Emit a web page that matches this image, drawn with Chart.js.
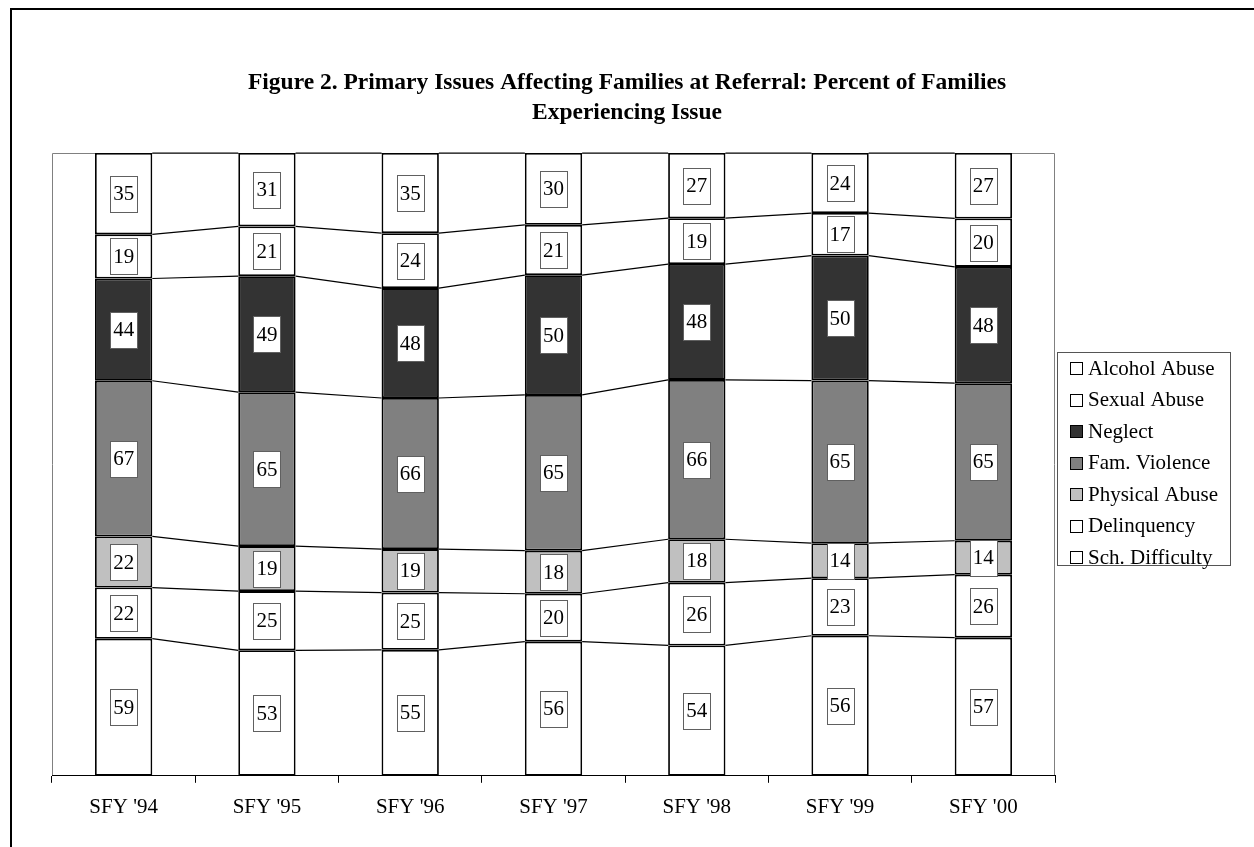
<!DOCTYPE html>
<html><head><meta charset="utf-8">
<script src="https://cdn.jsdelivr.net/npm/chart.js@4.4.1/dist/chart.umd.min.js"></script>
<style>html,body{margin:0;padding:0;background:#fff}#wrap{width:1254px;height:847px;position:relative}</style>
</head><body><div id="wrap"><canvas id="c" width="1254" height="847"></canvas></div>
<script>
const categories = ["SFY '94","SFY '95","SFY '96","SFY '97","SFY '98","SFY '99","SFY '00"];
const schDifficulty = [59,53,55,56,54,56,57];
const delinquency   = [22,25,25,20,26,23,26];
const physicalAbuse = [22,19,19,18,18,14,14];
const famViolence   = [67,65,66,65,66,65,65];
const neglect       = [44,49,48,50,48,50,48];
const sexualAbuse   = [19,21,24,21,19,17,20];
const alcoholAbuse  = [35,31,35,30,27,24,27];
const seriesNames = ["Sch. Difficulty","Delinquency","Physical Abuse","Fam. Violence","Neglect","Sexual Abuse","Alcohol Abuse"];
const seriesValues = [schDifficulty, delinquency, physicalAbuse, famViolence, neglect, sexualAbuse, alcoholAbuse];
const seriesColors = ['#ffffff','#ffffff','#c0c0c0','#808080','#333333','#ffffff','#ffffff'];
const titleLines = ["Figure 2. Primary Issues Affecting Families at Referral: Percent of Families","Experiencing Issue"];

const FONT = '"Liberation Serif","Times New Roman",serif';
const totals = categories.map((_, i) => seriesValues.reduce((s, arr) => s + arr[i], 0));
const datasets = seriesNames.map((name, k) => ({
  label: name,
  data: seriesValues[k].map((v, i) => v / totals[i] * 100),
  raw: seriesValues[k],
  backgroundColor: seriesColors[k],
  borderColor: '#000',
  borderWidth: 1.8,
  borderSkipped: false,
  barPercentage: 0.4,
  categoryPercentage: 1,
  clip: false
}));

const deco = {
  id: 'deco',
  beforeDraw(chart) {
    const ctx = chart.ctx, a = chart.chartArea;
    ctx.save();
    ctx.fillStyle = '#fff'; ctx.fillRect(0, 0, chart.width, chart.height);
    ctx.strokeStyle = '#000'; ctx.lineWidth = 2;
    ctx.beginPath(); ctx.moveTo(11, chart.height); ctx.lineTo(11, 9); ctx.lineTo(chart.width, 9); ctx.stroke();
    ctx.strokeStyle = '#808080'; ctx.lineWidth = 1;
    ctx.beginPath();
    ctx.moveTo(a.left + 0.5, a.bottom); ctx.lineTo(a.left + 0.5, a.top + 0.5);
    ctx.lineTo(a.right - 0.5, a.top + 0.5); ctx.lineTo(a.right - 0.5, a.bottom);
    ctx.stroke();
    ctx.restore();
  },
  afterDatasetsDraw(chart) {
    const ctx = chart.ctx;
    ctx.save();
    ctx.strokeStyle = '#000'; ctx.lineWidth = 1.2;
    chart.data.datasets.forEach((ds, d) => {
      const els = chart.getDatasetMeta(d).data;
      for (let i = 0; i < els.length - 1; i++) {
        const p = els[i], q = els[i + 1];
        ctx.beginPath(); ctx.moveTo(p.x + p.width / 2, p.y); ctx.lineTo(q.x - q.width / 2, q.y); ctx.stroke();
      }
    });
    ctx.font = '21px ' + FONT; ctx.textAlign = 'center'; ctx.textBaseline = 'middle';
    chart.data.datasets.forEach((ds, d) => {
      chart.getDatasetMeta(d).data.forEach((el, i) => {
        const cy = (el.y + el.base) / 2;
        const txt = String(ds.raw[i]);
        const w = Math.round(ctx.measureText(txt).width + 6), h = 36;
        const x0 = Math.round(el.x - w / 2) + 0.5, y0 = Math.round(cy - h / 2) + 0.5;
        ctx.fillStyle = '#fff'; ctx.fillRect(x0, y0, w, h);
        ctx.strokeStyle = '#606060'; ctx.lineWidth = 1; ctx.strokeRect(x0, y0, w, h);
        ctx.fillStyle = '#000'; ctx.fillText(txt, el.x, cy + 1);
      });
    });
    ctx.restore();
  },
  afterDraw(chart) {
    const ctx = chart.ctx;
    ctx.save();
    ctx.fillStyle = '#000'; ctx.textAlign = 'center'; ctx.textBaseline = 'middle';
    ctx.font = 'bold 23.5px ' + FONT;
    titleLines.forEach((t, i) => ctx.fillText(t, 627, 83 + i * 30));
    // legend
    ctx.strokeStyle = '#555'; ctx.lineWidth = 1;
    ctx.strokeRect(1057.5, 352.5, 173, 213);
    ctx.font = '21px ' + FONT; ctx.textAlign = 'left';
    const n = chart.data.datasets.length;
    for (let j = 0; j < n; j++) {
      const ds = chart.data.datasets[n - 1 - j];
      const y = 368 + j * 31.5;
      ctx.fillStyle = ds.backgroundColor;
      ctx.fillRect(1070.5, Math.round(y - 6) + 0.5, 12, 12);
      ctx.strokeStyle = '#000'; ctx.strokeRect(1070.5, Math.round(y - 6) + 0.5, 12, 12);
      ctx.fillStyle = '#000'; ctx.fillText(ds.label, 1088, y + 1);
    }
    ctx.restore();
  }
};

new Chart(document.getElementById('c'), {
  type: 'bar',
  data: { labels: categories, datasets },
  options: {
    responsive: false, animation: false,
    layout: { padding: { top: 153, left: 52, right: 199, bottom: 15 } },
    plugins: { legend: { display: false }, title: { display: false }, tooltip: { enabled: false } },
    scales: {
      x: {
        stacked: true,
        grid: { offset: true, drawOnChartArea: false, tickLength: 7, color: '#000', lineWidth: 1 },
        border: { color: '#000', width: 1 },
        ticks: { color: '#000', font: { family: FONT, size: 21 }, padding: 12, maxRotation: 0 }
      },
      y: { stacked: true, display: false, min: 0, max: 100 }
    }
  },
  plugins: [deco]
});
</script></body></html>
